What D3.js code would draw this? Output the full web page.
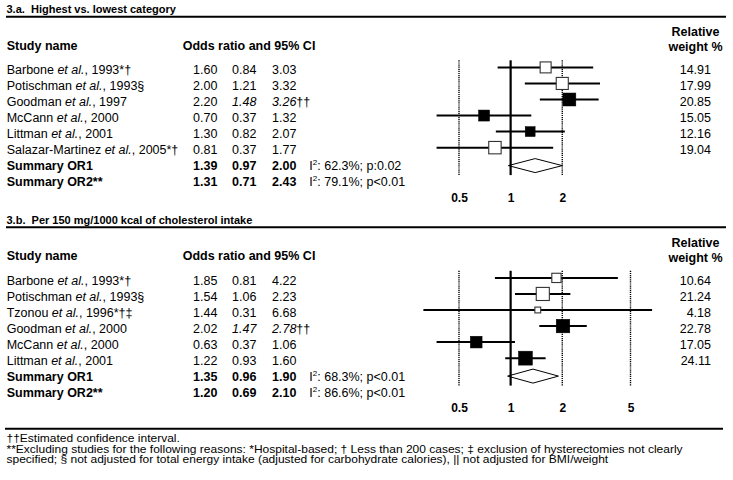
<!DOCTYPE html>
<html><head><meta charset="utf-8">
<script src="https://cdn.jsdelivr.net/npm/d3@7"></script>
<style>
html,body{margin:0;padding:0;background:#fff;}
svg text{font-family:"Liberation Sans",Arial,sans-serif;fill:#000;white-space:pre;}
</style></head>
<body><svg id="c" width="733" height="480"></svg>
<script>
// ---------- DATA ----------
const titleA = "3.a.  Highest vs. lowest category";
const studiesA = ["Barbone et al., 1993*†", "Potischman et al., 1993§", "Goodman et al., 1997", "McCann et al., 2000", "Littman et al., 2001", "Salazar-Martinez et al., 2005*†"];
const orA = [1.60, 2.00, 2.20, 0.70, 1.30, 0.81];
const lowA = [0.84, 1.21, 1.48, 0.37, 0.82, 0.37];
const highA = [3.03, 3.32, 3.26, 1.32, 2.07, 1.77];
const weightA = [14.91, 17.99, 20.85, 15.05, 12.16, 19.04];
const excludedA = [true, true, false, false, false, true];
const estimatedA = [false, false, true, false, false, false];
const sumOrA = [1.39, 1.31];
const sumLowA = [0.97, 0.71];
const sumHighA = [2.00, 2.43];
const i2A = ["62.3%", "79.1%"];
const pA = ["p:0.02", "p<0.01"];
const ticksA = [0.5, 1, 2];
const dashedA = [0.5, 2];

const titleB = "3.b.  Per 150 mg/1000 kcal of cholesterol intake";
const studiesB = ["Barbone et al., 1993*†", "Potischman et al., 1993§", "Tzonou et al., 1996*†‡", "Goodman et al., 2000", "McCann et al., 2000", "Littman et al., 2001"];
const orB = [1.85, 1.54, 1.44, 2.02, 0.63, 1.22];
const lowB = [0.81, 1.06, 0.31, 1.47, 0.37, 0.93];
const highB = [4.22, 2.23, 6.68, 2.78, 1.06, 1.60];
const weightB = [10.64, 21.24, 4.18, 22.78, 17.05, 24.11];
const excludedB = [true, true, true, false, false, false];
const estimatedB = [false, false, false, true, false, false];
const sumOrB = [1.35, 1.20];
const sumLowB = [0.96, 0.69];
const sumHighB = [1.90, 2.10];
const i2B = ["68.3%", "86.6%"];
const pB = ["p<0.01", "p<0.01"];
const ticksB = [0.5, 1, 2, 5];
const dashedB = [0.5, 2, 5];

const summaryLabels = ["Summary OR1", "Summary OR2**"];
const footnotes = [
  "††Estimated confidence interval.",
  "**Excluding studies for the following reasons: *Hospital-based; † Less than 200 cases; ‡ exclusion of hysterectomies not clearly",
  "specified; § not adjusted for total energy intake (adjusted for carbohydrate calories), || not adjusted for BMI/weight"
];

// ---------- DRAW ----------
const svg = d3.select("#c");
const fmt = d3.format(".2f");
const x = d3.scaleLog().domain([0.5, 5]).range([459, 630.5]);
const boxSize = d3.scaleSqrt().domain([0, 25]).range([0, 14.2]);
const colX = [193, 232, 272];

function panel(top, p) {
  const g = svg.append("g").attr("transform", `translate(0,${top})`);
  g.append("text").attr("x", 6.5).attr("y", 13.3).attr("font-size", 11).attr("font-weight", "bold").text(p.title);
  g.append("line").attr("x1", 6).attr("x2", 726).attr("y1", 16.7).attr("y2", 16.7).attr("stroke", "#000").attr("stroke-width", 2);
  g.append("text").attr("x", 6.7).attr("y", 49.5).attr("font-size", 12.5).attr("font-weight", "bold").text("Study name");
  g.append("text").attr("x", 182.7).attr("y", 49.5).attr("font-size", 12.5).attr("font-weight", "bold").text("Odds ratio and 95% CI");
  g.append("text").attr("x", 695.5).attr("y", 36.2).attr("font-size", 12.5).attr("font-weight", "bold").attr("text-anchor", "middle").text("Relative");
  g.append("text").attr("x", 695.5).attr("y", 51).attr("font-size", 12.5).attr("font-weight", "bold").attr("text-anchor", "middle").text("weight %");

  const n = p.studies.length;
  const row = d3.scaleLinear().domain([0, 1]).range([69.6, 69.6 + 16.05]);
  // study rows
  p.studies.forEach((s, i) => {
    const cy = row(i), by = cy + 4.4;
    const t = g.append("text").attr("x", 6.7).attr("y", by).attr("font-size", 12.5);
    const parts = s.split("et al.");
    t.append("tspan").text(parts[0]);
    t.append("tspan").attr("font-style", "italic").text("et al.");
    t.append("tspan").text(parts[1]);
    g.append("text").attr("x", colX[0]).attr("y", by).attr("font-size", 12.5).text(fmt(p.or[i]));
    const lt = g.append("text").attr("x", colX[1]).attr("y", by).attr("font-size", 12.5).text(fmt(p.low[i]));
    const ht = g.append("text").attr("x", colX[2]).attr("y", by).attr("font-size", 12.5);
    if (p.estimated[i]) {
      lt.attr("font-style", "italic");
      ht.append("tspan").attr("font-style", "italic").text(fmt(p.high[i]));
      ht.append("tspan").text("††");
    } else ht.text(fmt(p.high[i]));
    g.append("text").attr("x", 711).attr("y", by).attr("font-size", 12.5).attr("text-anchor", "end").text(fmt(p.weight[i]));
  });
  // summary rows
  summaryLabels.forEach((s, k) => {
    const by = row(n + k) + 4.4;
    g.append("text").attr("x", 6.7).attr("y", by).attr("font-size", 12.5).attr("font-weight", "bold").text(s);
    [p.sumOr[k], p.sumLow[k], p.sumHigh[k]].forEach((v, j) => {
      g.append("text").attr("x", colX[j]).attr("y", by).attr("font-size", 12.5).attr("font-weight", "bold").text(fmt(v));
    });
    const t = g.append("text").attr("x", 309.3).attr("y", by).attr("font-size", 12.5);
    t.append("tspan").text("I");
    t.append("tspan").attr("font-size", 8).attr("dy", -5).text("2");
    t.append("tspan").attr("dy", 5).text(": " + p.i2[k] + "; " + p.p[k]);
  });

  // forest plot
  const yTop = row(0) - 9.3, yBot = row(0) + 105.5;
  g.selectAll(".dash").data(p.dashed).enter().append("line")
    .attr("x1", d => x(d)).attr("x2", d => x(d)).attr("y1", yTop).attr("y2", yBot)
    .attr("stroke", "#000").attr("stroke-width", 1.4).attr("stroke-dasharray", "1.2,0.9");
  p.studies.forEach((s, i) => {
    const cy = row(i) - 2.2;
    g.append("line").attr("x1", x(p.low[i])).attr("x2", x(p.high[i])).attr("y1", cy).attr("y2", cy)
      .attr("stroke", "#000").attr("stroke-width", 2);
  });
  const dy = row(n) - 0.3, hh = 7;
  g.append("path")
    .attr("d", `M${x(p.sumLow[0])},${dy}L${x(p.sumOr[0])},${dy - hh}L${x(p.sumHigh[0])},${dy}L${x(p.sumOr[0])},${dy + hh}Z`)
    .attr("fill", "#fff").attr("stroke", "#000").attr("stroke-width", 1);
  g.append("line").attr("x1", x(1)).attr("x2", x(1)).attr("y1", yTop).attr("y2", yBot)
    .attr("stroke", "#000").attr("stroke-width", 2.2);
  p.studies.forEach((s, i) => {
    const cy = row(i) - 2.2, sz = boxSize(p.weight[i]);
    g.append("rect").attr("x", x(p.or[i]) - sz / 2).attr("y", cy - sz / 2).attr("width", sz).attr("height", sz)
      .attr("fill", p.excluded[i] ? "#fff" : "#000")
      .attr("stroke", p.excluded[i] ? "#333" : "#000").attr("stroke-width", p.excluded[i] ? 1.1 : 0.5);
  });
  const ax = g.append("g").attr("transform", `translate(0,${row(0) + 128 - 7.4})`)
    .call(d3.axisBottom(x).tickValues(p.ticks).tickSize(0).tickPadding(3).tickFormat(d3.format("")));
  ax.select(".domain").remove();
  ax.selectAll("text").attr("font-size", 12).attr("font-weight", "bold")
    .style("font-family", '"Liberation Sans",Arial,sans-serif');
}

panel(0, {title: titleA, studies: studiesA, or: orA, low: lowA, high: highA, weight: weightA, excluded: excludedA, estimated: estimatedA,
  sumOr: sumOrA, sumLow: sumLowA, sumHigh: sumHighA, i2: i2A, p: pA, ticks: ticksA, dashed: dashedA});
panel(210.5, {title: titleB, studies: studiesB, or: orB, low: lowB, high: highB, weight: weightB, excluded: excludedB, estimated: estimatedB,
  sumOr: sumOrB, sumLow: sumLowB, sumHigh: sumHighB, i2: i2B, p: pB, ticks: ticksB, dashed: dashedB});

// footer
svg.append("line").attr("x1", 5).attr("x2", 723).attr("y1", 428.8).attr("y2", 428.8).attr("stroke", "#000").attr("stroke-width", 2);
const fg = svg.append("g");
footnotes.forEach((f, i) => {
  fg.append("text").attr("transform", `translate(6.5,${442.2 + i * 10.5}) scale(1,0.86)`).attr("font-size", 12).text(f);
});
</script></body></html>
